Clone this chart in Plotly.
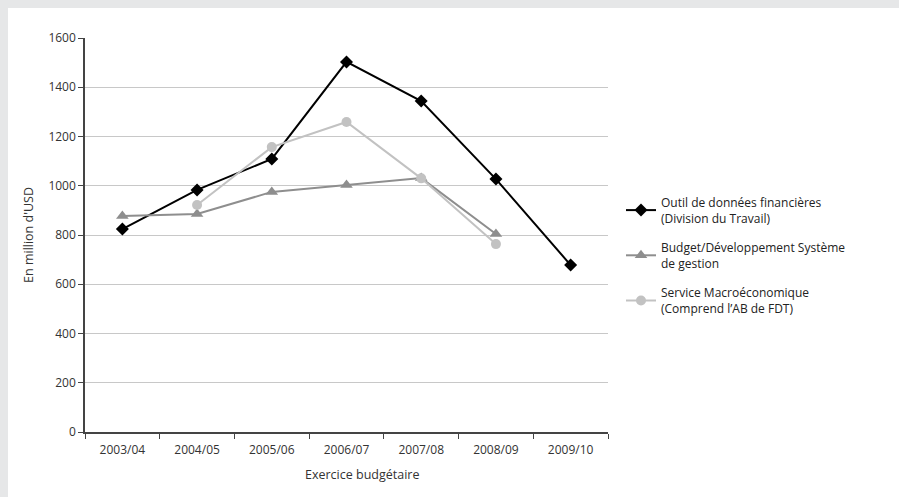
import plotly.graph_objects as go

categories = ["2003/04", "2004/05", "2005/06", "2006/07", "2007/08", "2008/09", "2009/10"]
outil = [824, 983, 1109, 1503, 1344, 1027, 678]
budget = [877, 885, 975, 1003, 1031, 804, None]
macro = [None, 922, 1157, 1259, 1030, 763, None]
yticks = [0, 200, 400, 600, 800, 1000, 1200, 1400, 1600]

W, H = 899, 497
L, R, T, B = 85, 291, 38, 65
pw = W - L - R
ph = H - T - B

def px(x):
    return (x - L) / pw

def py(y):
    return (H - B - y) / ph

FONT = "Open Sans"
fig = go.Figure()
fig.add_trace(go.Scatter(
    x=categories, y=outil, mode="lines+markers", legendgroup="a",
    name="Outil de données financières<br>(Division du Travail)",
    line=dict(color="#000000", width=2),
    marker=dict(symbol="diamond", size=10, color="#000000")))
fig.add_trace(go.Scatter(
    x=categories, y=budget, mode="lines+markers", legendgroup="b",
    name="Budget/Développement Système<br>de gestion",
    line=dict(color="#8e8e8e", width=2),
    marker=dict(symbol="triangle-up", size=11, color="#8e8e8e")))
fig.add_trace(go.Scatter(
    x=categories, y=macro, mode="lines+markers", legendgroup="c",
    name="Service Macroéconomique<br>(Comprend l’AB de FDT)",
    line=dict(color="#c2c2c2", width=2),
    marker=dict(symbol="circle", size=10, color="#c2c2c2")))

gray = "#e6e7e8"
fig.add_shape(type="rect", xref="paper", yref="paper", layer="below",
              x0=px(0), x1=px(W), y0=py(8), y1=py(0),
              fillcolor=gray, line=dict(width=0))
fig.add_shape(type="rect", xref="paper", yref="paper", layer="below",
              x0=px(0), x1=px(8), y0=py(H), y1=py(0),
              fillcolor=gray, line=dict(width=0))

fig.add_annotation(text="Exercice budgétaire", xref="paper", yref="paper",
                   x=px(362), y=py(474), xanchor="center", yanchor="middle",
                   showarrow=False,
                   font=dict(family=FONT, size=12.5, color="#333333"))

fig.update_layout(
    width=W, height=H,
    margin=dict(l=L, r=R, t=T, b=B),
    paper_bgcolor="white", plot_bgcolor="white",
    font=dict(family=FONT, size=12, color="#333333"),
    showlegend=True,
    legend=dict(x=px(621), y=py(188), xanchor="left", yanchor="top",
                font=dict(family=FONT, size=12, color="#222222"),
                valign="middle", tracegroupgap=11, bgcolor="rgba(0,0,0,0)"),
    xaxis=dict(type="category", categoryorder="array", categoryarray=categories,
               range=[-0.5, 6.5], showgrid=False, showline=True,
               linecolor="#444444", linewidth=1.5, ticks="outside",
               tickson="boundaries", ticklen=5, tickcolor="#444444",
               ticklabelstandoff=6,
               tickfont=dict(size=12, color="#333333")),
    yaxis=dict(range=[0, 1600], tickvals=yticks, showgrid=True, gridcolor="#c8c8c8",
               gridwidth=1, showline=True, linecolor="#444444", linewidth=1.5,
               ticks="outside", ticklen=5, tickcolor="#444444", zeroline=False,
               tickfont=dict(size=12, color="#333333"),
               title=dict(text="En million d'USD", font=dict(size=12.5, color="#333333"), standoff=12)),
)

fig.write_html("out.html")
